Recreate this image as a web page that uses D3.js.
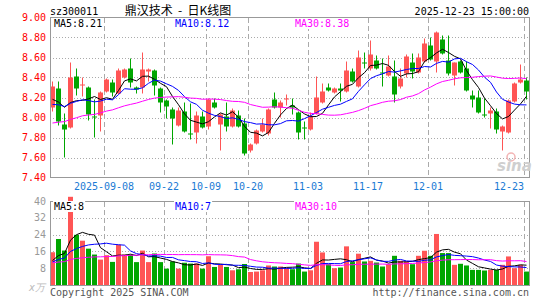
<!DOCTYPE html>
<html lang="zh">
<head>
    <meta charset="UTF-8">
    <script src="https://cdn.jsdelivr.net/npm/d3@7"></script>
    <title>鼎汉技术 - 日K线图</title>
    <style>
        html,
        body {
            margin: 0px;
            padding: 0px;
            background-color: #ffffff;
        }
        svg text {
            font-family: "DejaVu Sans Mono", monospace;
            font-size: 10px;
        }
    </style>
</head>
<body>
    <div id="kline"></div>
    <script>

        // trading days shown (2025-08-26 .. 2025-12-23)
        const dates = [
            '2025-08-26', '2025-08-27', '2025-08-28', '2025-08-29', '2025-09-01', '2025-09-02', '2025-09-03', '2025-09-04', '2025-09-05', '2025-09-08',
            '2025-09-09', '2025-09-10', '2025-09-11', '2025-09-12', '2025-09-15', '2025-09-16', '2025-09-17', '2025-09-18', '2025-09-19', '2025-09-22',
            '2025-09-23', '2025-09-24', '2025-09-25', '2025-09-26', '2025-09-29', '2025-09-30', '2025-10-09', '2025-10-10', '2025-10-13', '2025-10-14',
            '2025-10-15', '2025-10-16', '2025-10-17', '2025-10-20', '2025-10-21', '2025-10-22', '2025-10-23', '2025-10-24', '2025-10-27', '2025-10-28',
            '2025-10-29', '2025-10-30', '2025-10-31', '2025-11-03', '2025-11-04', '2025-11-05', '2025-11-06', '2025-11-07', '2025-11-10', '2025-11-11',
            '2025-11-12', '2025-11-13', '2025-11-14', '2025-11-17', '2025-11-18', '2025-11-19', '2025-11-20', '2025-11-21', '2025-11-24', '2025-11-25',
            '2025-11-26', '2025-11-27', '2025-11-28', '2025-12-01', '2025-12-02', '2025-12-03', '2025-12-04', '2025-12-05', '2025-12-08', '2025-12-09',
            '2025-12-10', '2025-12-11', '2025-12-12', '2025-12-15', '2025-12-16', '2025-12-17', '2025-12-18', '2025-12-19', '2025-12-22', '2025-12-23'
        ];

        const open = [
            8.10, 8.29, 7.93, 7.90, 8.41, 8.32, 8.30, 8.01, 8.02, 8.26,
            8.35, 8.24, 8.40, 8.49, 8.30, 8.30, 8.46, 8.47, 8.29, 8.17,
            8.08, 7.92, 8.06, 7.84, 7.85, 8.01, 7.91, 8.15, 7.93, 8.01,
            7.91, 8.02, 7.94, 7.67, 7.74, 7.86, 7.84, 8.18, 8.10, 8.18,
            8.12, 8.05, 7.90, 7.88, 8.04, 8.15, 8.30, 8.25, 8.29, 8.26,
            8.46, 8.31, 8.55, 8.49, 8.57, 8.45, 8.42, 8.41, 8.31, 8.44,
            8.55, 8.45, 8.56, 8.72, 8.56, 8.78, 8.57, 8.42, 8.56, 8.49,
            8.22, 8.20, 8.03, 8.04, 8.06, 7.86, 7.85, 8.16, 8.35, 8.37
        ];
        const high = [
            8.36, 8.36, 8.04, 8.55, 8.49, 8.40, 8.31, 8.18, 8.26, 8.39,
            8.38, 8.49, 8.49, 8.59, 8.31, 8.65, 8.49, 8.48, 8.30, 8.18,
            8.10, 8.10, 8.15, 8.14, 8.06, 8.06, 8.19, 8.19, 8.04, 8.15,
            8.09, 8.07, 7.99, 7.74, 7.88, 7.99, 8.09, 8.25, 8.17, 8.23,
            8.19, 8.06, 7.96, 8.05, 8.41, 8.34, 8.34, 8.30, 8.34, 8.56,
            8.49, 8.67, 8.65, 8.77, 8.62, 8.59, 8.62, 8.57, 8.49, 8.63,
            8.64, 8.64, 8.79, 8.80, 8.86, 8.82, 8.82, 8.55, 8.57, 8.56,
            8.27, 8.27, 8.19, 8.10, 8.09, 7.92, 8.18, 8.35, 8.53, 8.40
        ];
        const low = [
            8.06, 7.92, 7.60, 7.89, 8.22, 8.21, 7.97, 7.80, 7.86, 8.25,
            8.21, 8.23, 8.39, 8.30, 8.24, 8.24, 8.36, 8.22, 8.05, 7.99,
            7.73, 7.91, 7.85, 7.78, 7.74, 7.89, 7.88, 8.09, 7.67, 7.86,
            7.90, 7.90, 7.62, 7.65, 7.73, 7.85, 7.82, 8.09, 8.00, 8.12,
            8.03, 7.78, 7.78, 7.87, 8.03, 8.14, 8.26, 8.24, 8.16, 8.25,
            8.35, 8.30, 8.49, 8.47, 8.48, 8.31, 8.41, 8.15, 8.29, 8.40,
            8.39, 8.44, 8.55, 8.57, 8.45, 8.63, 8.42, 8.32, 8.44, 8.26,
            8.10, 8.04, 8.00, 7.89, 7.84, 7.67, 7.84, 8.15, 8.34, 8.18
        ];
        const close = [
            8.31, 7.96, 7.88, 8.40, 8.29, 8.33, 8.03, 8.00, 8.25, 8.38,
            8.25, 8.47, 8.48, 8.35, 8.28, 8.48, 8.48, 8.32, 8.15, 8.11,
            7.99, 8.07, 7.86, 7.83, 8.02, 7.90, 8.18, 8.10, 8.03, 7.91,
            8.07, 7.91, 7.64, 7.73, 7.87, 7.93, 8.08, 8.10, 8.15, 8.19,
            8.10, 7.85, 7.89, 8.01, 8.20, 8.26, 8.27, 8.29, 8.27, 8.47,
            8.36, 8.60, 8.54, 8.63, 8.49, 8.44, 8.51, 8.23, 8.39, 8.61,
            8.46, 8.60, 8.74, 8.58, 8.85, 8.64, 8.44, 8.55, 8.45, 8.27,
            8.18, 8.05, 8.02, 8.07, 7.88, 7.91, 8.17, 8.34, 8.38, 8.26
        ];
        // volume, 万手
        const volume = [
            15.6, 21.9, 16.4, 42.0, 23.9, 21.1, 17.3, 14.5, 12.1, 14.2,
            11.0, 19.2, 14.5, 14.5, 10.9, 16.4, 10.9, 15.0, 10.9, 7.8,
            11.2, 7.8, 10.6, 10.2, 10.2, 7.8, 13.7, 8.6, 9.6, 8.6,
            7.0, 7.5, 10.0, 6.2, 6.4, 7.0, 9.3, 8.8, 8.8, 8.0,
            7.5, 10.2, 6.4, 7.0, 20.6, 15.5, 9.9, 8.0, 8.3, 18.4,
            10.9, 14.9, 11.2, 11.5, 10.7, 8.8, 9.9, 13.9, 11.5, 11.2,
            9.9, 13.9, 16.3, 13.9, 24.3, 15.2, 15.2, 9.6, 10.1, 9.3,
            7.2, 7.2, 6.9, 7.2, 7.2, 9.6, 13.6, 8.0, 9.6, 6.4
        ];

        // 29 days before the window, only used so the averages start where the picture does
        const earlierClose = [
            7.72, 7.70, 7.75, 7.78, 7.74, 7.80, 7.82, 7.79, 7.85, 7.88,
            7.84, 7.90, 7.92, 7.88, 7.93, 7.95, 7.91, 7.96, 7.98, 7.94,
            8.00, 8.05, 8.08, 8.10, 8.17, 8.10, 8.14, 8.16, 8.20
        ];
        const earlierVolume = [
            9.8, 11.2, 10.5, 9.6, 10.8, 10.1, 9.9, 11.0, 10.4, 9.7,
            10.6, 10.2, 9.9, 10.9, 10.3, 10.0, 10.7, 10.1, 10.4, 9.9,
            10.1, 9.8, 10.6, 10.4, 10.7, 10.2, 11.3, 10.4, 10.9
        ];

        const tickDates = ['2025-09-08', '2025-09-22', '2025-10-09', '2025-10-20', '2025-11-03', '2025-11-17', '2025-12-01', '2025-12-23'];
        const tickLabels = ['2025-09-08', '09-22', '10-09', '10-20', '11-03', '11-17', '12-01', '12-23'];
        const priceTicks = [7.40, 7.60, 7.80, 8.00, 8.20, 8.40, 8.60, 8.80, 9.00];
        const volumeTicks = [8, 16, 24, 32, 40];
        const maPeriods = [5, 10, 30];
        const maNames = ['MA5', 'MA10', 'MA30'];
        const priceMaLabels = ['8.21', '8.12', '8.38'];
        const volumeMaLabels = ['8', '7', '10'];

        const up = '#ff5555';
        const down = '#00a600';
        const maColors = ['#000000', '#0000ff', '#ff00ff'];

        let width = 545;
        let height = 300;
        let left = 50, right = 530;

        let svg = d3.select('#kline').append('svg').attr('width', width).attr('height', height);

        let x = d3.scaleBand().domain(dates).range([left, right]);
        let y = d3.scaleLinear().domain([7.4, 9.0]).range([177.5, 17.5]);
        let yv = d3.scaleLinear().domain([0, 40]).range([285, 201]);

        function movingAverage(series, earlier, n) {
            const all = earlier.concat(series);
            return series.map((_, i) => d3.mean(all.slice(earlier.length + i - n + 1, earlier.length + i + 1)));
        }

        const idx = d3.range(dates.length);
        const isUp = i => close[i] >= open[i] && !(close[i] === open[i] && i > 0 && close[i] < close[i - 1]);
        const colour = i => isUp(i) ? up : down;
        const cx = i => x(dates[i]) + 2.5;

        // ---- headers
        svg.append('text').attr('x', 50).attr('y', 15).text('sz300011');
        svg.append('text').attr('x', 178).attr('y', 15).attr('text-anchor', 'middle')
            .style('font-family', '"Noto Sans CJK SC", sans-serif').style('font-size', '12px')
            .text('鼎汉技术\u00a0\u00a0-\u00a0\u00a0日K线图');
        svg.append('text').attr('x', 529).attr('y', 15).attr('text-anchor', 'end').text('2025-12-23 15:00:00');

        // ---- panels: grid + frame
        function panel(g, yScale, ticks, top, bottom) {
            g.selectAll('line.h').data(ticks).join('line')
                .attr('x1', left).attr('x2', right)
                .attr('y1', d => Math.round(yScale(d)) + 0.5).attr('y2', d => Math.round(yScale(d)) + 0.5)
                .attr('stroke', '#aaa').attr('stroke-dasharray', '1,2');
            g.selectAll('line.v').data(tickDates).join('line')
                .attr('x1', d => x(d) + 0.5).attr('x2', d => x(d) + 0.5)
                .attr('y1', top).attr('y2', bottom)
                .attr('stroke', '#aaa').attr('stroke-dasharray', '5,3');
        }

        let gp = svg.append('g');
        panel(gp, y, priceTicks.slice(1, -1), 18, 177);
        let gv = svg.append('g');
        panel(gv, yv, volumeTicks.slice(0, -1), 202, 285);

        // ---- candles
        let candles = svg.append('g');
        candles.selectAll('line').data(idx).join('line')
            .attr('x1', cx).attr('x2', cx)
            .attr('y1', i => y(high[i])).attr('y2', i => y(low[i]))
            .attr('stroke', colour);
        candles.selectAll('rect').data(idx).join('rect')
            .attr('x', i => x(dates[i]))
            .attr('width', 5)
            .attr('y', i => y(Math.max(open[i], close[i])))
            .attr('height', i => Math.max(1, Math.abs(y(open[i]) - y(close[i]))))
            .attr('fill', colour);

        // ---- volume bars
        svg.append('g').selectAll('rect').data(idx).join('rect')
            .attr('x', i => x(dates[i]))
            .attr('width', 5)
            .attr('y', i => yv(volume[i]))
            .attr('height', i => yv(0) - yv(volume[i]))
            .attr('fill', colour);

        // ---- moving averages
        maPeriods.forEach((n, k) => {
            const pm = movingAverage(close, earlierClose, n);
            const vm = movingAverage(volume, earlierVolume, n);
            svg.append('path').datum(idx)
                .attr('d', d3.line().x(cx).y(i => y(pm[i])))
                .attr('fill', 'none').attr('stroke', maColors[k]).attr('stroke-width', 1);
            svg.append('path').datum(idx)
                .attr('d', d3.line().x(cx).y(i => yv(vm[i])))
                .attr('fill', 'none').attr('stroke', maColors[k]).attr('stroke-width', 1);
        });

        // ---- frames
        svg.append('rect').attr('x', 50.5).attr('y', 17.5).attr('width', 479).attr('height', 160)
            .attr('fill', 'none').attr('stroke', '#999');
        svg.append('rect').attr('x', 50.5).attr('y', 201.5).attr('width', 479).attr('height', 84)
            .attr('fill', 'none').attr('stroke', '#999');

        // ---- legends
        const legendX = [54, 175, 295];
        function legend(yBase, values) {
            maNames.forEach((name, k) => {
                const t = svg.append('text').attr('x', legendX[k]).attr('y', yBase)
                    .attr('fill', maColors[k]).text(name + ':' + values[k]);
                const b = t.node().getBBox();
                svg.insert('rect', () => t.node())
                    .attr('x', b.x - 1).attr('y', b.y).attr('width', b.width + 2).attr('height', b.height)
                    .attr('fill', '#fff');
            });
        }
        legend(27, priceMaLabels);
        legend(210, volumeMaLabels);

        // ---- axis labels
        svg.append('g').selectAll('text').data(priceTicks).join('text')
            .attr('x', 46).attr('y', d => y(d)).attr('dy', '0.35em')
            .attr('text-anchor', 'end').attr('fill', '#f00')
            .text(d => d.toFixed(2));
        svg.append('g').selectAll('text').data(volumeTicks).join('text')
            .attr('x', 46).attr('y', d => yv(d)).attr('dy', '0.35em')
            .attr('text-anchor', 'end').attr('fill', '#999')
            .text(d => d);
        svg.append('text').attr('x', 45).attr('y', 291).attr('text-anchor', 'end')
            .attr('fill', '#bbb').style('font-style', 'italic').text('x万');

        svg.append('g').selectAll('text').data(tickDates).join('text')
            .attr('x', d => x(d))
            .attr('y', 190)
            .attr('text-anchor', d => x(d) + 15 > right ? 'end' : 'middle')
            .attr('fill', '#1a7ad4')
            .text((d, i) => tickLabels[i]);

        // ---- watermark and footer
        svg.append('circle').attr('cx', 511).attr('cy', 157).attr('r', 4)
            .attr('fill', 'none').attr('stroke', '#f3b5b5').attr('stroke-width', 1.5);
        svg.append('text').attr('x', 497).attr('y', 171)
            .style('font-family', '"DejaVu Sans", sans-serif').style('font-size', '15px')
            .style('font-weight', 'bold').style('font-style', 'italic')
            .attr('fill', '#cfcfcf').text('sina');

        svg.append('text').attr('x', 50).attr('y', 296).attr('fill', '#555').text('Copyright 2025 SINA.COM');
        svg.append('text').attr('x', 529).attr('y', 296).attr('text-anchor', 'end').attr('fill', '#555').text('http://finance.sina.com.cn');

    </script>
</body>
</html>
